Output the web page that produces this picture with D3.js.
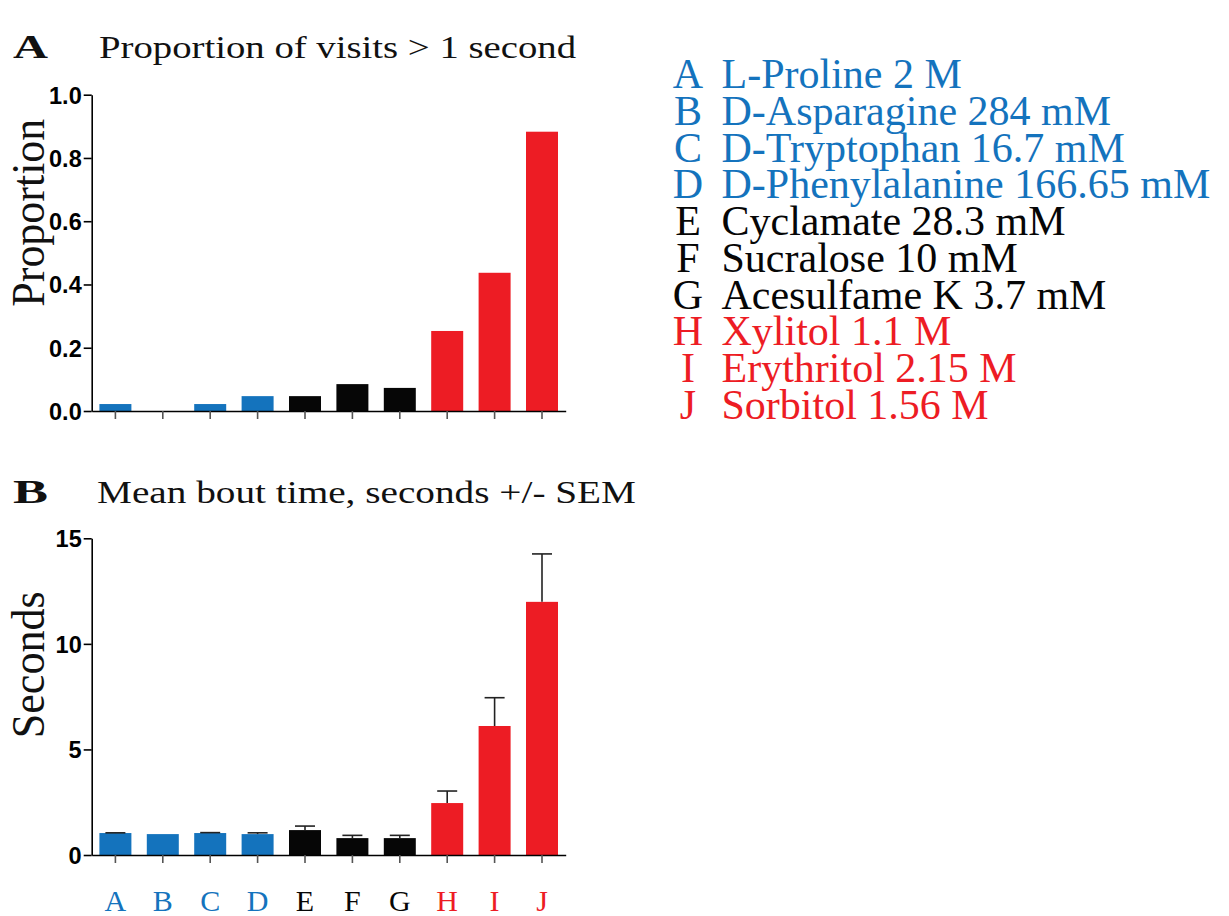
<!DOCTYPE html>
<html>
<head>
<meta charset="utf-8">
<script src="https://cdn.jsdelivr.net/npm/d3@7"></script>
<style>
  html, body { margin: 0; padding: 0; background: #fff; }
  svg { display: block; }
</style>
</head>
<body>
<svg id="fig" width="1229" height="916"></svg>
<script>
// Tastants, in plotting order
const letters = ["A", "B", "C", "D", "E", "F", "G", "H", "I", "J"];
const names = [
  "L-Proline 2 M",
  "D-Asparagine 284 mM",
  "D-Tryptophan 16.7 mM",
  "D-Phenylalanine 166.65 mM",
  "Cyclamate 28.3 mM",
  "Sucralose 10 mM",
  "Acesulfame K 3.7 mM",
  "Xylitol 1.1 M",
  "Erythritol 2.15 M",
  "Sorbitol 1.56 M"
];
const groups = ["amino", "amino", "amino", "amino", "sweetener", "sweetener", "sweetener", "polyol", "polyol", "polyol"];

// Panel A: proportion of visits longer than 1 s
const proportion = [0.022, 0.0, 0.022, 0.047, 0.047, 0.085, 0.073, 0.253, 0.437, 0.883];
const proportionTicks = [0, 0.2, 0.4, 0.6, 0.8, 1.0];

// Panel B: mean bout time (s) and SEM
const boutMean = [1.04, 0.99, 1.04, 0.99, 1.18, 0.80, 0.80, 2.46, 6.11, 11.99];
const boutSem = [0.01, 0.0, 0.02, 0.06, 0.19, 0.13, 0.13, 0.57, 1.34, 2.27];
const boutTicks = [0, 5, 10, 15];

const groupColor = d3.scaleOrdinal()
  .domain(["amino", "sweetener", "polyol"])
  .range(["#1473BD", "#060606", "#ED1C24"]);
const colorOf = i => groupColor(groups[i]);

const svg = d3.select("#fig");
const serif = "'Liberation Serif', 'Times New Roman', serif";
const sans = "'Liberation Sans', Arial, sans-serif";

const x = d3.scaleBand()
  .domain(letters)
  .range([91.7, 565.7])
  .paddingInner(0.325)
  .paddingOuter(0.1625);

function styleAxis(g) {
  g.select(".domain").attr("stroke", "#000").attr("stroke-width", 1.6);
  g.selectAll(".tick line").attr("stroke", "#555").attr("stroke-width", 1.6);
}

function panel(opts) {
  const y = d3.scaleLinear().domain(opts.domain).range([opts.y0, opts.y1]);
  const g = svg.append("g");

  // bars
  g.selectAll("rect.bar")
    .data(opts.values)
    .join("rect")
    .attr("class", "bar")
    .attr("x", (d, i) => x(letters[i]))
    .attr("width", x.bandwidth())
    .attr("y", d => y(d))
    .attr("height", d => y(0) - y(d))
    .attr("fill", (d, i) => colorOf(i));

  // error bars (upper only)
  if (opts.errors) {
    const capHalf = 10;
    const eg = g.append("g").attr("stroke", "#222").attr("stroke-width", 1.6);
    opts.values.forEach((v, i) => {
      const e = opts.errors[i];
      if (!(e > 0)) return;
      const cx = x(letters[i]) + x.bandwidth() / 2;
      eg.append("line").attr("x1", cx).attr("x2", cx).attr("y1", y(v)).attr("y2", y(v + e));
      eg.append("line").attr("x1", cx - capHalf).attr("x2", cx + capHalf).attr("y1", y(v + e)).attr("y2", y(v + e));
    });
  }

  // y axis
  const ya = g.append("g")
    .attr("transform", `translate(${x.range()[0]},0)`)
    .call(d3.axisLeft(y).tickValues(opts.ticks).tickFormat(opts.fmt).tickSize(8).tickSizeOuter(0).tickPadding(2));
  styleAxis(ya);
  ya.selectAll(".tick line").attr("stroke", "#000");
  ya.selectAll("text")
    .attr("font-family", sans)
    .attr("font-weight", "bold")
    .attr("font-size", 23.5)
    .attr("fill", "#000")
    .attr("dy", "0.36em");

  // x axis
  const xa = g.append("g")
    .attr("transform", `translate(0,${opts.y0})`)
    .call(d3.axisBottom(x).tickSize(8).tickSizeOuter(0).tickPadding(0)
      .tickFormat(opts.xLabels ? (d => d) : () => ""));
  styleAxis(xa);
  if (opts.xLabels) {
    xa.selectAll("text")
      .attr("font-family", serif)
      .attr("font-size", 30)
      .attr("y", 0)
      .attr("dy", 56)
      .attr("fill", (d, i) => colorOf(i));
  }

  // y-axis title
  g.append("text")
    .attr("transform", `translate(44,${opts.titleStart}) rotate(-90)`)
    .attr("font-family", serif)
    .attr("font-size", 46)
    .attr("textLength", opts.titleLen)
    .attr("lengthAdjust", "spacingAndGlyphs")
    .attr("fill", "#111")
    .text(opts.yTitle);

  // panel letter and heading
  g.append("text")
    .attr("x", 13)
    .attr("y", opts.headBase)
    .attr("font-family", serif)
    .attr("font-weight", "bold")
    .attr("font-size", 33)
    .attr("textLength", 35)
    .attr("lengthAdjust", "spacingAndGlyphs")
    .attr("fill", "#111")
    .text(opts.panel);
  g.append("text")
    .attr("x", opts.headX)
    .attr("y", opts.headBase)
    .attr("font-family", serif)
    .attr("font-size", 32)
    .attr("textLength", opts.headLen)
    .attr("lengthAdjust", "spacingAndGlyphs")
    .attr("fill", "#111")
    .text(opts.heading);
}

panel({
  panel: "A",
  heading: "Proportion of visits > 1 second",
  headX: 99, headLen: 477, headBase: 58,
  yTitle: "Proportion", titleStart: 306.7, titleLen: 188,
  domain: [0, 1], y0: 411, y1: 94.7,
  values: proportion, ticks: proportionTicks, fmt: d3.format(".1f"),
  xLabels: false
});

panel({
  panel: "B",
  heading: "Mean bout time, seconds +/- SEM",
  headX: 97, headLen: 539, headBase: 503,
  yTitle: "Seconds", titleStart: 738.3, titleLen: 147,
  domain: [0, 15], y0: 855, y1: 538.3,
  values: boutMean, errors: boutSem, ticks: boutTicks, fmt: d3.format("d"),
  xLabels: true
});

// key
const key = svg.append("g").attr("font-family", serif).attr("font-size", 42);
letters.forEach((l, i) => {
  const yb = 88.3 + i * 36.7;
  key.append("text").attr("x", 688).attr("y", yb).attr("text-anchor", "middle")
    .attr("fill", colorOf(i)).text(l);
  key.append("text").attr("x", 721.5).attr("y", yb)
    .attr("fill", colorOf(i)).text(names[i]);
});
</script>
</body>
</html>
